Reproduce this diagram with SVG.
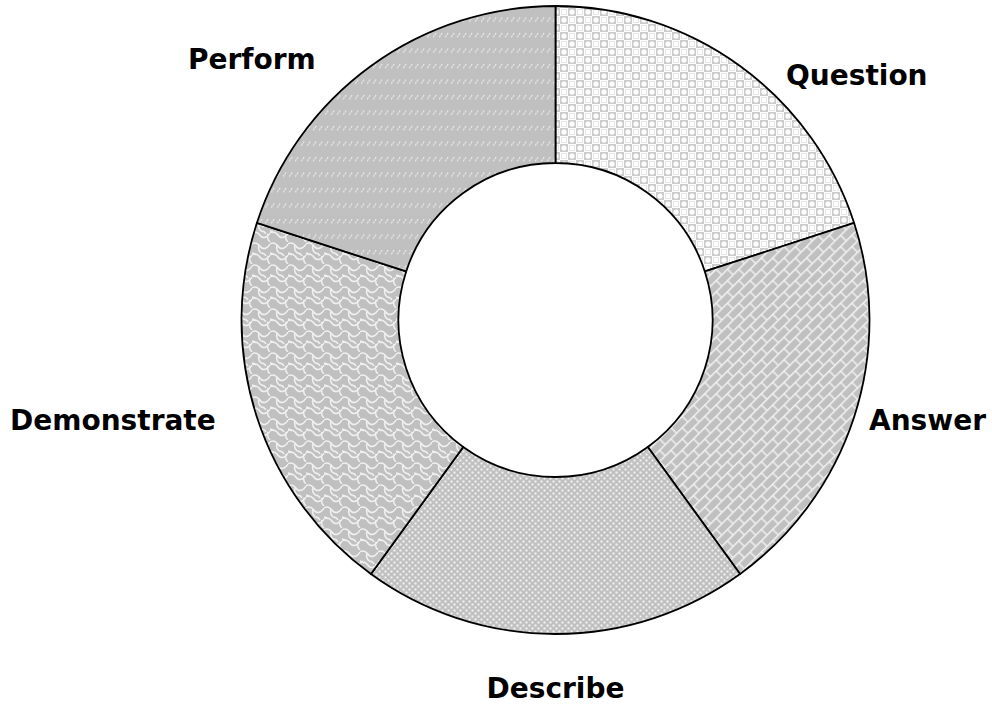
<svg xmlns="http://www.w3.org/2000/svg" width="992" height="704" viewBox="0 0 992 704">
<style>
.seg{stroke:#000;stroke-width:1.8;stroke-linejoin:round}
.lbl{font-family:"DejaVu Sans","Verdana",sans-serif;font-weight:bold;font-size:28px;fill:#000}
</style>
<defs>
<pattern id="pQuestion" width="16" height="16" patternUnits="userSpaceOnUse">
<rect width="16" height="16" fill="#ffffff"/>
<rect x="0" y="0" width="8" height="8" fill="#cbcbcb"/>
<rect x="8" y="8" width="8" height="8" fill="#cbcbcb"/>
<circle cx="4" cy="4" r="2.6" fill="#ffffff"/>
<circle cx="12" cy="12" r="2.6" fill="#ffffff"/>
<rect x="9.5" y="1.5" width="5" height="5" fill="none" stroke="#e2e2e2" stroke-width="0.8"/>
<rect x="1.5" y="9.5" width="5" height="5" fill="none" stroke="#e2e2e2" stroke-width="0.8"/>
</pattern>
<pattern id="pAnswer" width="16" height="16" patternUnits="userSpaceOnUse" patternTransform="rotate(-45)">
<rect width="16" height="16" fill="#c0c0c0"/>
<path d="M0 0.7H16M0 8.7H16M4 0.7V8.7M12 8.7V16" stroke="#f2f2f2" stroke-width="1.4" fill="none"/>
</pattern>
<pattern id="pDescribe" width="6" height="6" patternUnits="userSpaceOnUse">
<rect width="6" height="6" fill="#c0c0c0"/>
<rect x="0.5" y="0.5" width="2" height="2" fill="#f4f4f4"/>
<rect x="3.5" y="3.5" width="2" height="2" fill="#f4f4f4"/>
</pattern>
<pattern id="pDemonstrate" width="18" height="22" patternUnits="userSpaceOnUse">
<rect width="18" height="22" fill="#c0c0c0"/>
<path d="M0 2 C3 0 5 1 7 3 C9 6 12 7 14 6 C16 5 17 4 18 2 M7 3 C6 6 7 9 9 11 M0 13 C3 11 5 12 7 14 C9 17 12 18 14 17 C16 16 17 15 18 13 M16 14 C15 17 16 20 18 22 M-2 14 C-3 17 -2 20 0 22" stroke="#f0f0f0" stroke-width="1.5" fill="none"/>
<path d="M9 11 C11 11 13 12 14 14 M0 11 C2 11 3 12 4 13" stroke="#f0f0f0" stroke-width="1.5" fill="none"/>
</pattern>
<pattern id="pPerform" width="6" height="15.5" patternUnits="userSpaceOnUse">
<rect width="6" height="15.5" fill="#c0c0c0"/>
<path d="M1.2 6.2L4.6 1.4" stroke="#ececec" stroke-width="1.1" stroke-dasharray="2.2 0.8" fill="none"/>
</pattern>
</defs>
<g id="segment-question">
<path class="seg" fill="url(#pQuestion)" d="M555.5 6A314 314 0 0 1 854.13 222.97L704.82 271.48A157 157 0 0 0 555.5 163Z"/>
</g>
<g id="segment-answer">
<path class="seg" fill="url(#pAnswer)" d="M854.13 222.97A314 314 0 0 1 740.06 574.03L647.78 447.02A157 157 0 0 0 704.82 271.48Z"/>
</g>
<g id="segment-describe">
<path class="seg" fill="url(#pDescribe)" d="M740.06 574.03A314 314 0 0 1 370.94 574.03L463.22 447.02A157 157 0 0 0 647.78 447.02Z"/>
</g>
<g id="segment-demonstrate">
<path class="seg" fill="url(#pDemonstrate)" d="M370.94 574.03A314 314 0 0 1 256.87 222.97L406.18 271.48A157 157 0 0 0 463.22 447.02Z"/>
</g>
<g id="segment-perform">
<path class="seg" fill="url(#pPerform)" d="M256.87 222.97A314 314 0 0 1 555.5 6L555.5 163A157 157 0 0 0 406.18 271.48Z"/>
</g>
<g id="labels">
<text class="lbl" x="786" y="85">Question</text>
<text class="lbl" x="869" y="430">Answer</text>
<text class="lbl" x="555.5" y="698" text-anchor="middle">Describe</text>
<text class="lbl" x="10" y="430">Demonstrate</text>
<text class="lbl" x="188" y="69">Perform</text>
</g>
</svg>
